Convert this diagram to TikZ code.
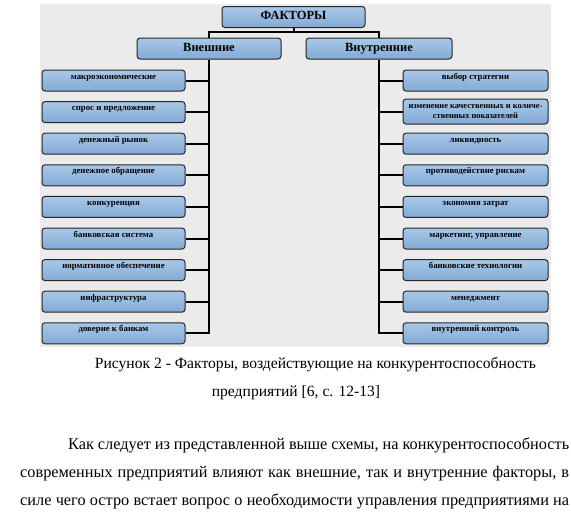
\documentclass[tikz,border=0pt]{standalone}
\usepackage{fontspec}
\setmainfont{Liberation Serif}
\definecolor{boxtop}{HTML}{A9C8E8}
\definecolor{boxbot}{HTML}{82AAD6}
\definecolor{bggray}{HTML}{EBEBEB}
\begin{document}
\begin{tikzpicture}[x=1pt,y=-1pt,
  box/.style={draw=black!85, line width=1pt, rounded corners=3pt,
    top color=boxtop, bottom color=boxbot, inner sep=0pt,
    font=\bfseries\fontsize{8.8}{9}\selectfont, text height=6pt, text depth=9pt},
  lbox/.style={box, minimum width=143pt, minimum height=21pt},
  rbox/.style={box, minimum width=145pt, minimum height=21pt},
  hbox/.style={box, font=\bfseries\fontsize{12.5}{13}\selectfont, text height=8.5pt, text depth=3pt, minimum height=21pt},
  conn/.style={line width=2pt, black},
  captext/.style={font=\fontsize{15.6}{19}\selectfont, inner sep=0pt},
  bodytext/.style={font=\fontsize{16.3}{19}\selectfont, inner sep=0pt}
]
\useasboundingbox (0,0) rectangle (571,515);
\fill[bggray] (40,4) rectangle (551,347);

\node[hbox, minimum width=143pt] (f) at (293.5,17) {ФАКТОРЫ};
\node[hbox, minimum width=144pt] (vn) at (209,48.5) {Внешние};
\node[hbox, minimum width=146pt] (vt) at (379,48.5) {Внутренние};

\foreach \t [count=\i from 0] in {макроэкономические, спрос и предложение, денежный рынок, денежное обращение, конкуренция, банковская система, нормативное обеспечение, инфраструктура, доверие к банкам}{
  \node[lbox] (L\i) at (113.5,80.5+31.6*\i) {\t};
}
\foreach \t [count=\i from 0] in {выбор стратегии, X, ликвидность, противодействие рискам, экономия затрат, {маркетинг, управление}, банковские технологии, менеджмент, внутренний контроль}{
  \ifnum\i=1\else
  \node[rbox] (R\i) at (475.5,80.5+31.6*\i) {\t};
  \fi
}
\node[rbox, minimum height=25pt, align=center, text height=, text depth=, font=\bfseries\fontsize{8.4}{10}\selectfont] (R1) at (475.5,111.5) {изменение качественных и количе-\\ственных показателей};

\coordinate (bar) at (0,32);
\draw[conn] (f.south) -- (bar -| f.south);
\draw[conn] (vn.north) |- (bar -| f.south) -| (vt.north);
\draw[conn] (vn.south) |- (L8.east);
\draw[conn] (vt.south) |- (R8.west);
\foreach \i in {0,...,7}{
  \draw[conn] (L\i.east) -- (L\i.east -| vn.south);
  \draw[conn] (R\i.west) -- (R\i.west -| vt.south);
}

\node[captext, anchor=base] (cap1) at (315.5,368) {Рисунок 2 - Факторы, воздействующие на конкурентоспособность};
\node[captext, anchor=base] (cap2) at (296,396) {предприятий [6, с. 12-13]};
\node[bodytext, anchor=base west] (p1) at (68,449) {\makebox[501pt][s]{Как следует из представленной выше схемы, на конкурентоспособность}};
\node[bodytext, anchor=base west] (p2) at (20,477) {\makebox[549pt][s]{современных предприятий влияют как внешние, так и внутренние факторы, в}};
\node[bodytext, anchor=base west] (p3) at (20,505) {\makebox[549pt][s]{силе чего остро встает вопрос о необходимости управления предприятиями на}};
\end{tikzpicture}
\end{document}
